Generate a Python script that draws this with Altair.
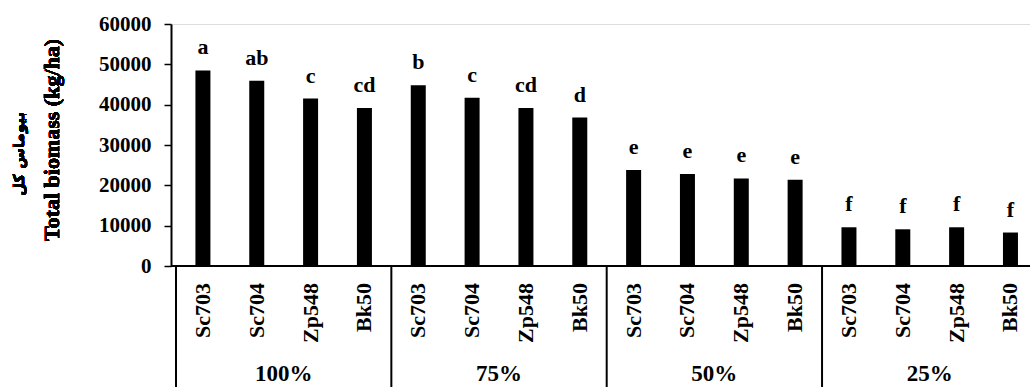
import altair as alt
import pandas as pd

# Irrigation levels (groups) and maize cultivars within each group
levels = ["100%", "75%", "50%", "25%"]
cultivars = ["Sc703", "Sc704", "Zp548", "Bk50"]

# Total biomass (kg/ha), in group order
biomass = [48500, 45900, 41500, 39200,
           44800, 41700, 39200, 36800,
           23800, 22800, 21700, 21400,
           9600, 9100, 9600, 8300]

# Mean-separation letters
letters = ["a", "ab", "c", "cd",
           "b", "c", "cd", "d",
           "e", "e", "e", "e",
           "f", "f", "f", "f"]

rows = []
for i, v in enumerate(biomass):
    rows.append({"idx": i, "level": levels[i // 4], "cultivar": cultivars[i % 4],
                 "biomass": v, "letter": letters[i]})
df = pd.DataFrame(rows)

groups = pd.DataFrame({"level": levels, "center": [1.5, 5.5, 9.5, 13.5]})
seps = pd.DataFrame({"pos": [-0.5, 3.5, 7.5, 11.5]})

W, H = 859, 242
SERIF = "Liberation Serif"

x_scale = alt.Scale(domain=[-0.5, 15.27], nice=False, zero=False)
y_scale = alt.Scale(domain=[0, 60000], nice=False)

base = alt.Chart(df)

bars = base.mark_bar(size=15, color="black").encode(
    x=alt.X("idx:Q", scale=x_scale, axis=None),
    y=alt.Y("biomass:Q", scale=y_scale,
            axis=alt.Axis(values=list(range(0, 60001, 10000)), format="d",
                          tickSize=7, labelPadding=13, grid=False, title=None,
                          domainWidth=2, domainColor="black", tickWidth=1.5,
                          tickColor="black", labelColor="black", labelFont=SERIF,
                          labelFontWeight="bold", labelFontSize=21)),
)

letter_text = base.mark_text(dy=-16, baseline="alphabetic", font=SERIF,
                             fontWeight="bold", fontSize=22, color="black").encode(
    x=alt.X("idx:Q", scale=x_scale),
    y=alt.Y("biomass:Q", scale=y_scale),
    text="letter:N",
)

cultivar_text = base.mark_text(angle=270, align="right", baseline="middle", font=SERIF,
                               fontWeight="bold", fontSize=22, color="black").encode(
    x=alt.X("idx:Q", scale=x_scale),
    y=alt.value(H + 17),
    text="cultivar:N",
)

group_text = alt.Chart(groups).mark_text(baseline="middle", font=SERIF, fontWeight="bold",
                                         fontSize=23, color="black").encode(
    x=alt.X("center:Q", scale=x_scale),
    y=alt.value(H + 108),
    text="level:N",
)

x_line = alt.Chart(df).mark_rule(color="black", strokeWidth=2).encode(
    x=alt.value(0), x2=alt.value(W), y=alt.value(H),
)

sep_lines = alt.Chart(seps).mark_rule(color="black", strokeWidth=2).encode(
    x=alt.X("pos:Q", scale=x_scale),
    y=alt.value(H), y2=alt.value(H + 125),
)

title_en = alt.Chart(df).mark_text(angle=270, align="center", baseline="middle", font=SERIF,
                                   fontWeight="bold", fontSize=22, color="black").encode(
    x=alt.value(-119), y=alt.value(116), text=alt.value("Total biomass (kg/ha)"),
)

title_fa = alt.Chart(df).mark_text(angle=270, align="center", baseline="middle",
                                   font="DejaVu Sans", fontWeight="bold", fontSize=15,
                                   color="black").encode(
    x=alt.value(-152), y=alt.value(130), text=alt.value("بیوماس کل"),
)

chart = alt.layer(bars, letter_text, cultivar_text, group_text, x_line, sep_lines,
                  title_en, title_fa).properties(
    width=W, height=H,
    padding={"left": 171, "top": 24, "right": 0, "bottom": 121},
    autosize=alt.AutoSizeParams(type="none"),
).configure_view(stroke=None).configure(background="white")

chart.save("out.html", embed_options={"renderer": "svg", "actions": False})
